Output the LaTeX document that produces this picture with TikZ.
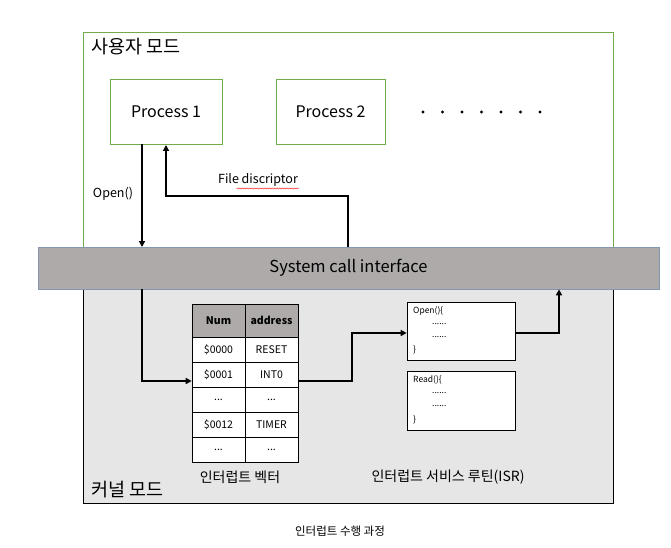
\documentclass[tikz,border=0pt]{standalone}
\usepackage{fontspec}
\setmainfont{Noto Sans CJK KR}
\usetikzlibrary{arrows.meta,decorations.pathmorphing}
\definecolor{offgreen}{HTML}{70AD47}
\definecolor{bargray}{HTML}{AEAAAA}
\definecolor{bargrayline}{HTML}{8497B0}
\definecolor{kernelgray}{HTML}{E7E6E6}
\tikzset{
  procbox/.style={draw=offgreen, line width=0.8pt, fill=white, inner sep=0pt},
  flow/.style={line width=2pt, -{Triangle[length=6pt,width=6pt]}},
  cell/.style={draw=black, line width=0.6pt, fill=white, inner sep=0pt, minimum height=25pt, font=\fontsize{10.5}{12}\selectfont},
  hcell/.style={cell, fill=bargray, font=\bfseries\fontsize{10.5}{12}\selectfont},
  isrbox/.style={draw=black, line width=0.7pt, fill=white},
  isrtxt/.style={font=\fontsize{8.5}{10}\selectfont, anchor=west, inner sep=0pt}
}
\begin{document}
\begin{tikzpicture}[x=1pt,y=-1pt]
\useasboundingbox (0,0) rectangle (671,548);
% user mode
\draw[draw=offgreen, line width=0.8pt] (83,32) rectangle (613,250);
\node[anchor=west, font=\fontsize{18.5}{20}\selectfont] (usermode) at (88,47) {사용자 모드};
% kernel mode
\draw[draw=black, line width=1pt, fill=kernelgray] (83,288) rectangle (613,503);
\node[anchor=west, font=\fontsize{18.5}{20}\selectfont] (kernelmode) at (88,490) {커널 모드};
% system call bar
\node[draw=bargrayline, fill=bargray, line width=0.7pt, minimum width=621pt, minimum height=42pt, inner sep=0pt, font=\fontsize{16.5}{18}\selectfont] (sci) at (348.5,268) {System call interface};
% processes
\node[procbox, minimum width=112pt, minimum height=65pt, font=\fontsize{16}{18}\selectfont] (p1) at (166,111.5) {Process 1};
\node[procbox, minimum width=109pt, minimum height=65pt, font=\fontsize{16}{18}\selectfont] (p2) at (330.5,111.5) {Process 2};
\foreach \i in {0,...,6} {
  \fill (423+19.5*\i,112) circle (1.7pt);
}
% open arrow
\coordinate (o1) at (142,144.5);
\coordinate (o2) at (142,247);
\draw[flow] (o1) -- (o2);
\node[font=\fontsize{12.5}{14}\selectfont] (openlbl) at (113,194) {Open()};
% file descriptor arrow
\coordinate (f1) at (348,247);
\coordinate (f2) at (348,196);
\coordinate (f3) at (166,196);
\coordinate (f4) at (166,145);
\draw[flow] (f1) -- (f2) -- (f3) -- (f4);
\node[font=\fontsize{12.5}{14}\selectfont] (fdlbl) at (258,180) {File discriptor};
\draw[red, line width=0.4pt, decorate, decoration={snake, amplitude=0.6pt, segment length=2.5pt}] (236.5,188.5) -- (299,188.5);
% table
\node[hcell, minimum width=53pt, minimum height=33pt] (h1) at (218.5,320.5) {Num};
\node[hcell, minimum width=53pt, minimum height=33pt] (h2) at (271.5,320.5) {address};
\node[cell, minimum width=53pt] (a1) at (218.5,349.5) {\$0000};
\node[cell, minimum width=53pt] (b1) at (271.5,349.5) {RESET};
\node[cell, minimum width=53pt] (a2) at (218.5,374.5) {\$0001};
\node[cell, minimum width=53pt] (b2) at (271.5,374.5) {INT0};
\node[cell, minimum width=53pt] (a3) at (218.5,399.5) {...};
\node[cell, minimum width=53pt] (b3) at (271.5,399.5) {...};
\node[cell, minimum width=53pt] (a4) at (218.5,424.5) {\$0012};
\node[cell, minimum width=53pt] (b4) at (271.5,424.5) {TIMER};
\node[cell, minimum width=53pt] (a5) at (218.5,449.5) {...};
\node[cell, minimum width=53pt] (b5) at (271.5,449.5) {...};
% kernel arrow in
\coordinate (k1) at (142,289);
\coordinate (k2) at (142,381);
\draw[flow] (k1) -- (k2) -- (a2.west |- 0,381);
% ISR boxes
\node[isrbox, minimum width=108pt, minimum height=58pt, inner sep=0pt] (openisr) at (461,331) {};
\node[isrtxt] (ot1) at (413,311) {Open()\{};
\node[isrtxt] (ot2) at (432,324) {......};
\node[isrtxt] (ot3) at (432,337) {......};
\node[isrtxt] (ot4) at (413,350) {\}};
\node[isrbox, minimum width=108pt, minimum height=59pt, inner sep=0pt] (readisr) at (461,400.5) {};
\node[isrtxt] (rt1) at (413,380) {Read()\{};
\node[isrtxt] (rt2) at (432,393) {......};
\node[isrtxt] (rt3) at (432,406) {......};
\node[isrtxt] (rt4) at (413,420) {\}};
% table to ISR
\coordinate (t1) at (352,381);
\coordinate (t2) at (352,333);
\draw[flow] (b2.east |- 0,381) -- (t1) -- (t2) -- (openisr.west |- 0,333);
% ISR to bar
\coordinate (s1) at (559,333);
\draw[flow] (openisr.east |- 0,333) -- (s1) -- (sci.south -| s1);
% labels
\node[font=\fontsize{14}{16}\selectfont] (vlbl) at (240,477) {인터럽트 벡터};
\node[font=\fontsize{14}{16}\selectfont] (isrlbl) at (448,477) {인터럽트 서비스 루틴(ISR)};
\node[font=\fontsize{11.5}{13}\selectfont] (caption) at (340,531) {인터럽트 수행 과정};
\end{tikzpicture}
\end{document}
